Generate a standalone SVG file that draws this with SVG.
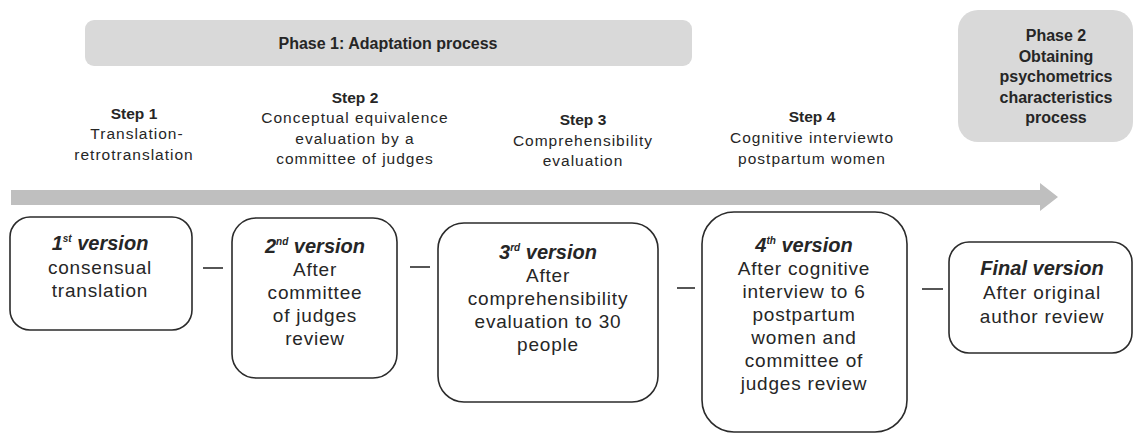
<svg xmlns="http://www.w3.org/2000/svg" width="1134" height="436" viewBox="0 0 1134 436">
<style>
.phase{fill:#d9d9d9;stroke:none}
.ph{font-family:"Liberation Sans",Arial,sans-serif;font-weight:bold;font-size:16px;fill:#262626;text-anchor:middle}
.st{font-family:"Liberation Sans",Arial,sans-serif;font-size:15.5px;letter-spacing:1px;fill:#262626;text-anchor:middle}
.stb{font-weight:bold;letter-spacing:0}
.box{fill:#fff;stroke:#2b2b2b;stroke-width:1.6}
.bt{font-family:"Liberation Sans",Arial,sans-serif;font-size:19px;letter-spacing:0.8px;fill:#262626;text-anchor:middle}
.bh{font-weight:bold;font-style:italic;font-size:20px;letter-spacing:0}
.sup{font-size:10px}
.dash{stroke:#2b2b2b;stroke-width:1.6;fill:none}
</style>
<rect width="1134" height="436" fill="#fff"/>
<g id="phase1">
<rect class="phase" x="85" y="20" width="607" height="46" rx="9"/>
<text class="ph" x="388" y="49">Phase 1: Adaptation process</text>
</g>
<g id="phase2">
<rect class="phase" x="958" y="10" width="175" height="132" rx="20"/>
<text class="ph" x="1056" y="41">Phase 2</text>
<text class="ph" x="1056" y="61.5">Obtaining</text>
<text class="ph" x="1056" y="82">psychometrics</text>
<text class="ph" x="1056" y="102.5">characteristics</text>
<text class="ph" x="1056" y="123">process</text>
</g>
<g id="step1">
<text class="st stb" x="134" y="119">Step 1</text>
<text class="st" x="137" y="139">Translation-</text>
<text class="st" x="134" y="160">retrotranslation</text>
</g>
<g id="step2">
<text class="st stb" x="355" y="103">Step 2</text>
<text class="st" x="355" y="123">Conceptual equivalence</text>
<text class="st" x="355" y="144">evaluation by a</text>
<text class="st" x="355" y="164">committee of judges</text>
</g>
<g id="step3">
<text class="st stb" x="583" y="125">Step 3</text>
<text class="st" x="583" y="146">Comprehensibility</text>
<text class="st" x="583" y="166">evaluation</text>
</g>
<g id="step4">
<text class="st stb" x="812" y="122">Step 4</text>
<text class="st" x="812" y="143">Cognitive interviewto</text>
<text class="st" x="812" y="164">postpartum women</text>
</g>
<g id="timeline">
<polygon fill="#bfbfbf" points="11,190 1040,190 1040,183 1058,197 1040,211 1040,205 11,205"/>
</g>
<g id="v1">
<rect class="box" x="10" y="217" width="182" height="113" rx="20"/>
<text class="bt bh" x="100" y="250">1<tspan class="sup" dy="-8">st</tspan><tspan dy="8"> version</tspan></text>
<text class="bt" x="100" y="274">consensual</text>
<text class="bt" x="100" y="297">translation</text>
</g>
<g id="v2">
<rect class="box" x="232" y="218" width="165" height="160" rx="24"/>
<text class="bt bh" x="315" y="253">2<tspan class="sup" dy="-8">nd</tspan><tspan dy="8"> version</tspan></text>
<text class="bt" x="315" y="276">After</text>
<text class="bt" x="315" y="299">committee</text>
<text class="bt" x="315" y="322">of judges</text>
<text class="bt" x="315" y="345">review</text>
</g>
<g id="v3">
<rect class="box" x="438" y="223" width="220" height="179" rx="26"/>
<text class="bt bh" x="548" y="259">3<tspan class="sup" dy="-8">rd</tspan><tspan dy="8"> version</tspan></text>
<text class="bt" x="548" y="282">After</text>
<text class="bt" x="548" y="305">comprehensibility</text>
<text class="bt" x="548" y="328">evaluation to 30</text>
<text class="bt" x="548" y="351">people</text>
</g>
<g id="v4">
<rect class="box" x="702" y="212" width="205" height="220" rx="32"/>
<text class="bt bh" x="804" y="252">4<tspan class="sup" dy="-8">th</tspan><tspan dy="8"> version</tspan></text>
<text class="bt" x="804" y="275">After cognitive</text>
<text class="bt" x="804" y="298">interview to 6</text>
<text class="bt" x="804" y="321">postpartum</text>
<text class="bt" x="804" y="344">women and</text>
<text class="bt" x="804" y="367">committee of</text>
<text class="bt" x="804" y="390">judges review</text>
</g>
<g id="vfinal">
<rect class="box" x="949" y="242" width="183" height="111" rx="20"/>
<text class="bt bh" x="1042" y="275">Final version</text>
<text class="bt" x="1042" y="299">After original</text>
<text class="bt" x="1042" y="323">author review</text>
</g>
<g id="connectors">
<line class="dash" x1="203" y1="268" x2="223" y2="268"/>
<line class="dash" x1="410" y1="267" x2="430" y2="267"/>
<line class="dash" x1="677" y1="288" x2="695" y2="288"/>
<line class="dash" x1="922" y1="289" x2="943" y2="289"/>
</g>
</svg>
